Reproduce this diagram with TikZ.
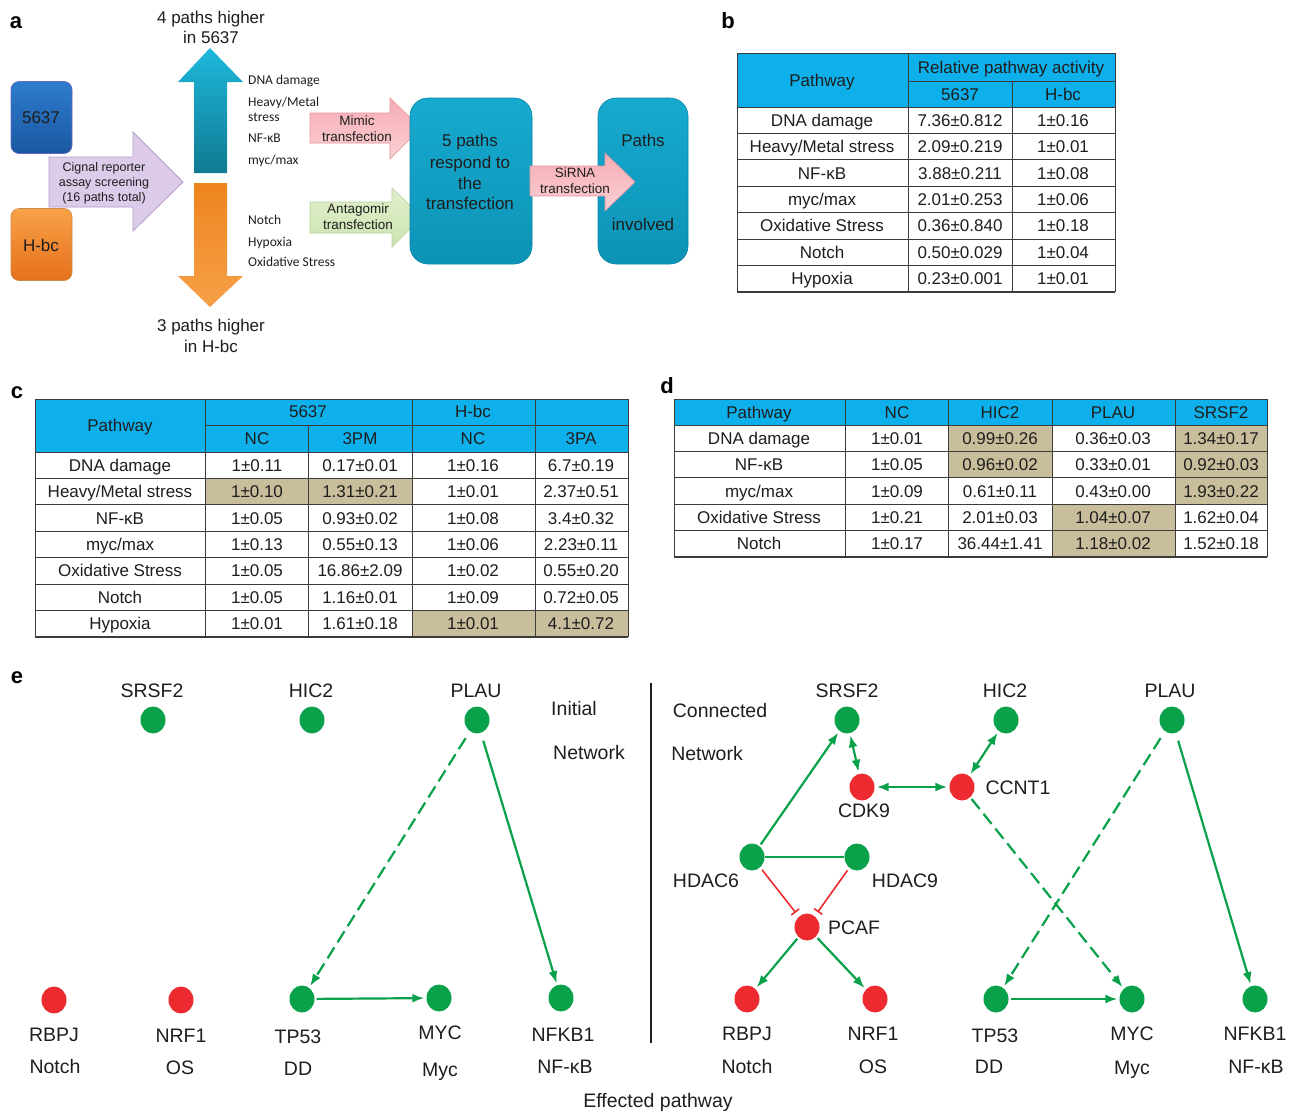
\documentclass[tikz,border=0pt]{standalone}
\usepackage{fontspec}
\setmainfont{Liberation Sans}
\newfontfamily\calfont{Carlito}
\usetikzlibrary{arrows.meta,shapes.geometric}
\definecolor{hdr}{HTML}{0DB0EA}
\definecolor{tanc}{HTML}{C9BE9B}
\definecolor{gline}{HTML}{3C3C3C}
\definecolor{ngreen}{HTML}{0AA14B}
\definecolor{nred}{HTML}{EC2A2F}
\definecolor{txt}{HTML}{1E1E1E}
\definecolor{cyantop}{HTML}{17AACF}
\definecolor{cyanbot}{HTML}{0C93B6}
\definecolor{cyanedge}{HTML}{0B86A6}
\newcommand{\myslash}{/}
\begin{document}
\begin{tikzpicture}[x=1pt,y=-1pt,
  t17/.style={font=\fontsize{17}{20}\selectfont, inner sep=0pt, text height=14pt, text depth=2pt, text=txt},
  t19/.style={font=\fontsize{19.5}{22}\selectfont, inner sep=0pt, text height=16pt, text depth=2pt, text=txt},
  t12/.style={font=\fontsize{12.5}{14}\selectfont, inner sep=0pt, text height=10pt, text depth=1pt, text=txt},
  t13/.style={font=\fontsize{13.5}{15}\selectfont, inner sep=0pt, text height=10pt, text depth=1pt, text=txt},
  cal/.style={font=\calfont\fontsize{13.5}{15}\selectfont, inner sep=0pt, text height=10pt, text depth=1pt, anchor=west, text=txt},
  plab/.style={font=\bfseries\fontsize{22}{24}\selectfont, inner sep=0pt, text height=16pt, text depth=0pt},
  tl/.style={draw=gline, line width=0.9pt},
  gn/.style={ellipse, fill=ngreen, minimum width=25pt, minimum height=27pt, inner sep=0pt},
  rn/.style={ellipse, fill=nred, minimum width=25pt, minimum height=27pt, inner sep=0pt},
  act/.style={draw=ngreen, line width=2.2pt, -{Latex[length=12pt,width=9pt]}, shorten >=2pt, shorten <=2pt},
  dbl/.style={draw=ngreen, line width=2.2pt, {Latex[length=12pt,width=9pt]}-{Latex[length=12pt,width=9pt]}, shorten >=2pt, shorten <=2pt},
  dsh/.style={dash pattern=on 13pt off 6pt},
  inh/.style={draw=nred, line width=1.6pt, -{Bar[width=10pt,line width=1.6pt]}, shorten >=5pt, shorten <=3pt},
  cbox/.style={draw=cyanedge, line width=0.6pt, rounded corners=18pt, top color=cyantop, bottom color=cyanbot},
]
\useasboundingbox (0,0) rectangle (1295,1111);
\fill[white] (0,0) rectangle (1295,1111);

% ---------- panel labels ----------
\node[plab] (la) at (16,20) {a};
\node[plab] (lb) at (728,20) {b};
\node[plab] (lc) at (17,390) {c};
\node[plab] (ld) at (667,385) {d};
\node[plab] (le) at (17,675) {e};

% ---------- panel a ----------
\node[draw=blue!60!black!60, line width=0.6pt, rounded corners=8pt, top color={rgb,255:red,46;green,124;blue,206}, bottom color={rgb,255:red,26;green,88;blue,160}, minimum width=61pt, minimum height=72pt, inner sep=0pt] (c5637) at (41.5,117.5) {};
\node[t17] (c5637t) at (41,117) {5637};
\node[draw=orange!70!black!70, line width=0.6pt, rounded corners=8pt, top color={rgb,255:red,248;green,162;blue,72}, bottom color={rgb,255:red,230;green,112;blue,28}, minimum width=61pt, minimum height=72pt, inner sep=0pt] (chbc) at (41.5,244.5) {};
\node[t17] (chbct) at (41,245) {H-bc};

% purple arrow
\path[draw={rgb,255:red,178;green,156;blue,204}, line width=0.8pt, fill={rgb,255:red,220;green,204;blue,234}]
  (49,157) -- (133,157) -- (133,132) -- (183,182) -- (133,231) -- (133,207) -- (49,207) -- cycle;
\node[t12] (cig1) at (104,167) {Cignal reporter};
\node[t12] (cig2) at (104,182) {assay screening};
\node[t12] (cig3) at (104,197) {(16 paths total)};

% cyan up arrow
\path[top color={rgb,255:red,30;green,184;blue,220}, bottom color={rgb,255:red,16;green,122;blue,146}]
  (194,173) -- (194,82) -- (178,82) -- (210,48) -- (243,82) -- (227,82) -- (227,173) -- cycle;
% orange down arrow
\path[top color={rgb,255:red,238;green,132;blue,30}, bottom color={rgb,255:red,246;green,160;blue,72}]
  (194,183) -- (194,276) -- (178,276) -- (210,307) -- (243,276) -- (227,276) -- (227,183) -- cycle;

\node[t17] (up1) at (211,17) {4 paths higher};
\node[t17] (up2) at (211,37) {in 5637};
\node[t17] (dn1) at (211,325) {3 paths higher};
\node[t17] (dn2) at (211,346) {in H-bc};

\node[cal] (la1) at (248,80) {DNA damage};
\node[cal] (la2) at (248,102) {Heavy/Metal};
\node[cal] (la3) at (248,117) {stress};
\node[cal] (la4) at (248,138) {NF-κB};
\node[cal] (la5) at (248,160) {myc/max};
\node[cal] (la6) at (248,220) {Notch};
\node[cal] (la7) at (248,242) {Hypoxia};
\node[cal] (la8) at (248,262) {Oxidative Stress};

% mimic arrow
\path[draw={rgb,255:red,230;green,150;blue,160}, line width=0.6pt, top color={rgb,255:red,246;green,172;blue,180}, bottom color={rgb,255:red,250;green,208;blue,212}]
  (310,113) -- (390,113) -- (390,98) -- (421,128) -- (390,159) -- (390,143) -- (310,143) -- cycle;
\node[t13] (mim1) at (357,121) {Mimic};
\node[t13] (mim2) at (357,137) {transfection};
% antagomir arrow
\path[draw={rgb,255:red,180;green,208;blue,150}, line width=0.6pt, top color={rgb,255:red,226;green,240;blue,206}, bottom color={rgb,255:red,204;green,228;blue,176}]
  (310,202) -- (392,202) -- (392,188) -- (422,217) -- (392,247) -- (392,233) -- (310,233) -- cycle;
\node[t13] (ant1) at (358,209) {Antagomir};
\node[t13] (ant2) at (358,225) {transfection};

% big cyan boxes
\node[cbox, minimum width=122pt, minimum height=166pt, inner sep=0pt] (resp) at (471,181) {};
\node[t17] (resp1) at (470,140) {5 paths};
\node[t17] (resp2) at (470,162) {respond to};
\node[t17] (resp3) at (470,183) {the};
\node[t17] (resp4) at (470,203) {transfection};
\node[cbox, minimum width=90pt, minimum height=166pt, inner sep=0pt] (paths) at (643,181) {};
\node[t17] (paths1) at (643,140) {Paths};
\node[t17] (paths2) at (643,224) {involved};
% sirna arrow
\path[draw={rgb,255:red,230;green,150;blue,160}, line width=0.6pt, top color={rgb,255:red,246;green,172;blue,180}, bottom color={rgb,255:red,250;green,208;blue,212}]
  (530,166) -- (605,166) -- (605,153) -- (635,182) -- (605,211) -- (605,196) -- (530,196) -- cycle;
\node[t13] (sir1) at (575,173) {SiRNA};
\node[t13] (sir2) at (575,189) {transfection};

% ---------- panel b ----------
\fill[hdr] (737,53) rectangle (1115,107);
\foreach \k in {0,...,7} \draw[tl] (737,{107+26.43*\k}) -- (1115,{107+26.43*\k});
\draw[tl] (737,53) -- (1115,53);
\draw[tl] (908,81) -- (1115,81);
\foreach \x in {737,908,1115} \draw[tl] (\x,53) -- (\x,292);
\draw[tl] (1012,81) -- (1012,292);
\draw[draw=gline, line width=1.6pt] (737,292) -- (1115,292);
\node[t17] (bh1) at (822,80) {Pathway};
\node[t17] (bh2) at (1011,67) {Relative pathway activity};
\node[t17] (bh3) at (960,94) {5637};
\node[t17] (bh4) at (1063,94) {H-bc};
\foreach \k/\p/\a/\b in {1/{DNA damage}/{7.36±0.812}/{1±0.16},
  2/{Heavy\myslash Metal stress}/{2.09±0.219}/{1±0.01},
  3/{NF-κB}/{3.88±0.211}/{1±0.08},
  4/{myc\myslash max}/{2.01±0.253}/{1±0.06},
  5/{Oxidative Stress}/{0.36±0.840}/{1±0.18},
  6/{Notch}/{0.50±0.029}/{1±0.04},
  7/{Hypoxia}/{0.23±0.001}/{1±0.01}}{
  \node[t17] (b\k-p) at (822,{107+26.43*(\k-0.5)}) {\p};
  \node[t17] (b\k-a) at (960,{107+26.43*(\k-0.5)}) {\a};
  \node[t17] (b\k-b) at (1063,{107+26.43*(\k-0.5)}) {\b};
}

% ---------- panel c ----------
\fill[hdr] (35,399) rectangle (628,452);
\fill[tanc] (205,478.4) rectangle (412,504.9);
\fill[tanc] (412,610.6) rectangle (628,637);
\draw[tl] (35,399) -- (628,399);
\draw[tl] (205,425) -- (628,425);
\foreach \k in {0,...,7} \draw[tl] (35,{452+26.43*\k}) -- (628,{452+26.43*\k});
\foreach \x in {35,205,412,535,628} \draw[tl] (\x,399) -- (\x,637);
\draw[tl] (308,425) -- (308,637);
\draw[draw=gline, line width=1.6pt] (35,637) -- (628,637);
\node[t17] (ch1) at (120,425) {Pathway};
\node[t17] (ch2) at (308,411) {5637};
\node[t17] (ch3) at (473,411) {H-bc};
\node[t17] (ch4) at (257,438) {NC};
\node[t17] (ch5) at (360,438) {3PM};
\node[t17] (ch6) at (473,438) {NC};
\node[t17] (ch7) at (581,438) {3PA};
\foreach \k/\p/\a/\b/\c/\d in {1/{DNA damage}/{1±0.11}/{0.17±0.01}/{1±0.16}/{6.7±0.19},
  2/{Heavy\myslash Metal stress}/{1±0.10}/{1.31±0.21}/{1±0.01}/{2.37±0.51},
  3/{NF-κB}/{1±0.05}/{0.93±0.02}/{1±0.08}/{3.4±0.32},
  4/{myc\myslash max}/{1±0.13}/{0.55±0.13}/{1±0.06}/{2.23±0.11},
  5/{Oxidative Stress}/{1±0.05}/{16.86±2.09}/{1±0.02}/{0.55±0.20},
  6/{Notch}/{1±0.05}/{1.16±0.01}/{1±0.09}/{0.72±0.05},
  7/{Hypoxia}/{1±0.01}/{1.61±0.18}/{1±0.01}/{4.1±0.72}}{
  \node[t17] (c\k-p) at (120,{452+26.43*(\k-0.5)}) {\p};
  \node[t17] (c\k-a) at (257,{452+26.43*(\k-0.5)}) {\a};
  \node[t17] (c\k-b) at (360,{452+26.43*(\k-0.5)}) {\b};
  \node[t17] (c\k-c) at (473,{452+26.43*(\k-0.5)}) {\c};
  \node[t17] (c\k-d) at (581,{452+26.43*(\k-0.5)}) {\d};
}

% ---------- panel d ----------
\fill[hdr] (674,399) rectangle (1267,425);
\fill[tanc] (948,425) rectangle (1052,478.4);
\fill[tanc] (1175,425) rectangle (1267,504.9);
\fill[tanc] (1052,504.9) rectangle (1175,557);
\draw[tl] (674,399) -- (1267,399);
\foreach \k in {0,...,5} \draw[tl] (674,{425+26.43*\k}) -- (1267,{425+26.43*\k});
\foreach \x in {674,845,948,1052,1175,1267} \draw[tl] (\x,399) -- (\x,557);
\draw[draw=gline, line width=1.6pt] (674,557) -- (1267,557);
\node[t17] (dh1) at (759,412) {Pathway};
\node[t17] (dh2) at (897,412) {NC};
\node[t17] (dh3) at (1000,412) {HIC2};
\node[t17] (dh4) at (1113,412) {PLAU};
\node[t17] (dh5) at (1221,412) {SRSF2};
\foreach \k/\p/\a/\b/\c/\d in {1/{DNA damage}/{1±0.01}/{0.99±0.26}/{0.36±0.03}/{1.34±0.17},
  2/{NF-κB}/{1±0.05}/{0.96±0.02}/{0.33±0.01}/{0.92±0.03},
  3/{myc\myslash max}/{1±0.09}/{0.61±0.11}/{0.43±0.00}/{1.93±0.22},
  4/{Oxidative Stress}/{1±0.21}/{2.01±0.03}/{1.04±0.07}/{1.62±0.04},
  5/{Notch}/{1±0.17}/{36.44±1.41}/{1.18±0.02}/{1.52±0.18}}{
  \node[t17] (d\k-p) at (759,{425+26.43*(\k-0.5)}) {\p};
  \node[t17] (d\k-a) at (897,{425+26.43*(\k-0.5)}) {\a};
  \node[t17] (d\k-b) at (1000,{425+26.43*(\k-0.5)}) {\b};
  \node[t17] (d\k-c) at (1113,{425+26.43*(\k-0.5)}) {\c};
  \node[t17] (d\k-d) at (1221,{425+26.43*(\k-0.5)}) {\d};
}

% ---------- panel e ----------
\draw[line width=2pt, draw=txt] (651,683) -- (651,1043);
% left network
\node[gn] (lsrsf2) at (153,720) {};
\node[gn] (lhic2) at (312,720) {};
\node[gn] (lplau) at (477,720) {};
\node[rn] (lrbpj) at (54,1000) {};
\node[rn] (lnrf1) at (181,1000) {};
\node[gn] (ltp53) at (302,999) {};
\node[gn] (lmyc) at (439,998) {};
\node[gn] (lnfkb1) at (561,998) {};
\node[t19] (lsrsf2t) at (152,690) {SRSF2};
\node[t19] (lhic2t) at (311,690) {HIC2};
\node[t19] (lplaut) at (476,690) {PLAU};
\node[t19] (lrbpjt) at (54,1034) {RBPJ};
\node[t19] (lrbpjp) at (55,1066) {Notch};
\node[t19] (lnrf1t) at (181,1035) {NRF1};
\node[t19] (lnrf1p) at (180,1067) {OS};
\node[t19] (ltp53t) at (298,1036) {TP53};
\node[t19] (ltp53p) at (298,1068) {DD};
\node[t19] (lmyct) at (440,1032) {MYC};
\node[t19] (lmycp) at (440,1069) {Myc};
\node[t19] (lnfkb1t) at (563,1034) {NFKB1};
\node[t19] (lnfkb1p) at (565,1066) {NF-κB};
\node[t19] (linit) at (574,708) {Initial};
\node[t19] (lnet) at (589,752) {Network};
\draw[act, dsh, shorten <=8pt] (lplau) -- (ltp53);
\draw[act, shorten <=8pt] (lplau) -- (lnfkb1);
\draw[act] (ltp53) -- (lmyc);

% right network
\node[gn] (rsrsf2) at (847,720) {};
\node[gn] (rhic2) at (1006,720) {};
\node[gn] (rplau) at (1172,720) {};
\node[rn] (rcdk9) at (862,787) {};
\node[rn] (rccnt1) at (962,787) {};
\node[gn] (rhdac6) at (752,857) {};
\node[gn] (rhdac9) at (857,857) {};
\node[rn] (rpcaf) at (807,927) {};
\node[rn] (rrbpj) at (747,999) {};
\node[rn] (rnrf1) at (875,999) {};
\node[gn] (rtp53) at (996,999) {};
\node[gn] (rmyc) at (1132,999) {};
\node[gn] (rnfkb1) at (1255,999) {};
\node[t19] (rsrsf2t) at (847,690) {SRSF2};
\node[t19] (rhic2t) at (1005,690) {HIC2};
\node[t19] (rplaut) at (1170,690) {PLAU};
\node[t19] (rcdk9t) at (864,810) {CDK9};
\node[t19] (rccnt1t) at (1018,787) {CCNT1};
\node[t19] (rhdac6t) at (706,880) {HDAC6};
\node[t19] (rhdac9t) at (905,880) {HDAC9};
\node[t19] (rpcaft) at (854,927) {PCAF};
\node[t19] (rrbpjt) at (747,1033) {RBPJ};
\node[t19] (rrbpjp) at (747,1066) {Notch};
\node[t19] (rnrf1t) at (873,1033) {NRF1};
\node[t19] (rnrf1p) at (873,1066) {OS};
\node[t19] (rtp53t) at (995,1035) {TP53};
\node[t19] (rtp53p) at (989,1066) {DD};
\node[t19] (rmyct) at (1132,1033) {MYC};
\node[t19] (rmycp) at (1132,1067) {Myc};
\node[t19] (rnfkb1t) at (1255,1033) {NFKB1};
\node[t19] (rnfkb1p) at (1256,1066) {NF-κB};
\node[t19] (rconn) at (720,710) {Connected};
\node[t19] (rnet) at (707,753) {Network};
\node[t19] (effp) at (658,1100) {Effected pathway};

\draw[act] (rhdac6) -- (rsrsf2);
\draw[dbl] (rsrsf2) -- (rcdk9);
\draw[dbl] (rcdk9) -- (rccnt1);
\draw[dbl] (rhic2) -- (rccnt1);
\draw[act, dsh] (rccnt1) -- (rmyc);
\draw[act, dsh, shorten <=8pt] (rplau) -- (rtp53);
\draw[act, shorten <=8pt] (rplau) -- (rnfkb1);
\draw[act] (rtp53) -- (rmyc);
\draw[draw=ngreen, line width=2.2pt] (rhdac6) -- (rhdac9);
\draw[inh] (rhdac6) -- (rpcaf);
\draw[inh] (rhdac9) -- (rpcaf);
\draw[act] (rpcaf) -- (rrbpj);
\draw[act] (rpcaf) -- (rnrf1);
\end{tikzpicture}
\end{document}
